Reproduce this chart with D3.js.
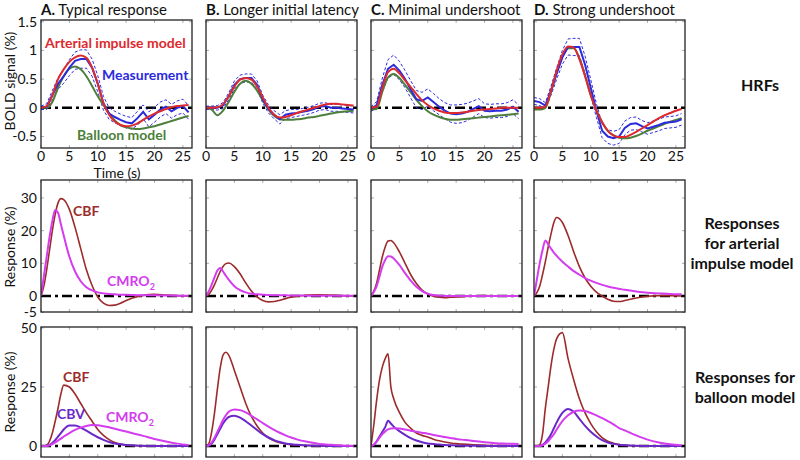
<!DOCTYPE html>
<html><head><meta charset="utf-8">
<script src="https://cdn.jsdelivr.net/npm/d3@7"></script>
<style>
body{margin:0;background:#fff;}
text{font-family:Lato,"Open Sans",sans-serif;}
</style></head>
<body><svg id="c" width="800" height="460"></svg>
<script>
// ---------- DATA ----------
const panelLetters = ["A.", "B.", "C.", "D."];
const panelTitles = ["Typical response", "Longer initial latency", "Minimal undershoot", "Strong undershoot"];
const rowLabels = [["HRFs"], ["Responses", "for arterial", "impulse model"], ["Responses for", "balloon model"]];
const xTicks = [0, 5, 10, 15, 20, 25];
const yTicksHRF = [-0.5, 0, 0.5, 1, 1.5];
const yTickLabelsHRF = ["-0.5", "0", "0.5", "1", "1.5"];
const yTicksArt = [-5, 0, 10, 20, 30];
const yTickLabelsArt = ["-5", "0", "10", "20", "30"];
const yTicksBal = [0, 25, 50];
const yTickLabelsBal = ["0", "25", "50"];

// HRF row (BOLD %), time in seconds
const hrfTime = [0,1,2,3,4,5,6,7,8,9,10,11,12,13,14,15,16,17,18,19,20,21,22,23,24,25,26];
const hrfArterialA = [0,0.03,0.22,0.5,0.67,0.8,0.88,0.91,0.87,0.7,0.42,0.08,-0.12,-0.24,-0.3,-0.32,-0.31,-0.27,-0.21,-0.15,-0.1,-0.06,-0.02,0.01,0.03,0.04,0.05];
const hrfBalloonA  = [0,0,0.1,0.35,0.55,0.68,0.72,0.67,0.55,0.38,0.2,0.05,-0.1,-0.22,-0.3,-0.34,-0.36,-0.37,-0.36,-0.34,-0.32,-0.29,-0.26,-0.23,-0.2,-0.17,-0.14];
const hrfMeasA     = [0,0.02,0.22,0.42,0.55,0.7,0.82,0.85,0.85,0.7,0.42,0.08,-0.1,-0.16,-0.21,-0.25,-0.27,-0.18,-0.07,-0.2,-0.12,-0.03,0.02,-0.06,0,0.03,-0.08];
const hrfErrA      = [0.03,0.05,0.08,0.1,0.12,0.14,0.15,0.16,0.16,0.15,0.14,0.12,0.1,0.1,0.1,0.1,0.1,0.12,0.12,0.13,0.13,0.13,0.12,0.12,0.12,0.12,0.12];
const hrfArterialB = [0,0,0.01,0.06,0.2,0.37,0.49,0.52,0.49,0.37,0.18,0,-0.12,-0.17,-0.16,-0.13,-0.09,-0.06,-0.03,0,0.03,0.06,0.07,0.07,0.06,0.05,0.04];
const hrfBalloonB  = [0,-0.03,-0.13,-0.05,0.1,0.28,0.42,0.47,0.42,0.3,0.13,-0.03,-0.14,-0.2,-0.21,-0.21,-0.2,-0.19,-0.17,-0.16,-0.14,-0.12,-0.1,-0.08,-0.07,-0.06,-0.05];
const hrfMeasB     = [0,0,0,0.04,0.2,0.4,0.5,0.52,0.52,0.4,0.15,-0.02,-0.12,-0.2,-0.12,-0.1,-0.09,-0.07,-0.05,-0.02,0.02,0.03,0,0,-0.01,-0.02,-0.03];
const hrfErrB      = [0.03,0.03,0.04,0.05,0.06,0.07,0.07,0.07,0.07,0.07,0.07,0.07,0.07,0.08,0.07,0.07,0.06,0.06,0.06,0.06,0.06,0.06,0.06,0.06,0.06,0.06,0.06];
const hrfArterialC = [0,0.02,0.35,0.62,0.68,0.6,0.48,0.36,0.24,0.13,0.05,-0.01,-0.05,-0.08,-0.09,-0.09,-0.08,-0.07,-0.05,-0.04,-0.03,-0.02,-0.01,0,0,0,0];
const hrfBalloonC  = [-0.03,-0.02,0.28,0.53,0.59,0.52,0.4,0.27,0.14,0.03,-0.06,-0.12,-0.16,-0.19,-0.21,-0.21,-0.2,-0.19,-0.18,-0.17,-0.16,-0.15,-0.14,-0.13,-0.12,-0.11,-0.1];
const hrfMeasC     = [-0.02,0.05,0.4,0.68,0.75,0.65,0.5,0.32,0.15,0.12,0.18,0.1,0.02,-0.05,-0.1,-0.11,-0.1,-0.07,-0.02,0.03,-0.05,-0.06,-0.05,-0.05,-0.03,0.02,-0.07];
const hrfErrC      = [0.04,0.06,0.12,0.16,0.17,0.16,0.15,0.15,0.15,0.15,0.15,0.15,0.14,0.14,0.15,0.16,0.16,0.15,0.14,0.13,0.12,0.12,0.12,0.12,0.12,0.12,0.12];
const hrfArterialD = [0,0,0.02,0.3,0.65,0.93,1.07,1.05,0.85,0.55,0.22,-0.05,-0.25,-0.4,-0.48,-0.51,-0.51,-0.47,-0.42,-0.36,-0.3,-0.24,-0.18,-0.13,-0.09,-0.05,-0.02];
const hrfBalloonD  = [-0.03,-0.03,0,0.28,0.62,0.9,1.04,1.04,0.86,0.56,0.22,-0.05,-0.25,-0.4,-0.48,-0.52,-0.53,-0.52,-0.49,-0.45,-0.4,-0.36,-0.32,-0.28,-0.24,-0.21,-0.18];
const hrfMeasD     = [0.12,0.1,0.04,0.3,0.6,0.88,1.06,1.06,1.06,0.75,0.35,-0.05,-0.4,-0.5,-0.53,-0.5,-0.35,-0.28,-0.27,-0.32,-0.36,-0.33,-0.3,-0.26,-0.25,-0.24,-0.2];
const hrfErrD      = [0.06,0.06,0.05,0.08,0.1,0.12,0.14,0.15,0.15,0.15,0.14,0.12,0.12,0.12,0.12,0.12,0.12,0.11,0.11,0.1,0.1,0.1,0.1,0.1,0.1,0.1,0.1];

// Response rows (%), time in seconds
const respTime = [0,0.5,1,1.5,2,2.5,3,3.5,4,5,6,7,8,9,10,11,12,13,14,15,16,18,20,22,24,26];
// arterial impulse model
const artCBF_A   = [0,3,8,14,20,25,28.5,29.8,29.5,26.5,21,14.5,8,3.2,-0.3,-2.2,-2.9,-2.8,-2.2,-1.4,-0.7,0.2,0.5,0.3,0.1,0];
const artCMRO2_A = [0,6,12,18,23,26.3,25.5,22,18.5,12,7.5,4.5,2.7,1.7,1.1,0.8,0.6,0.5,0.4,0.35,0.3,0.25,0.2,0.15,0.1,0.1];
const artCBF_B   = [0,0.5,1.8,3.5,5.5,7.5,9,9.9,10.1,9,6.8,4,1.5,-0.3,-1.4,-1.8,-1.7,-1.3,-0.8,-0.4,-0.1,0.3,0.4,0.3,0.1,0];
const artCMRO2_B = [0,1.5,3.5,5.7,7.8,8.6,7.5,6.2,5,3,1.8,1.1,0.7,0.5,0.4,0.3,0.25,0.2,0.2,0.15,0.15,0.1,0.1,0.1,0.1,0.1];
const artCBF_C   = [0,1.5,4,8,12,15,16.8,17,16.3,13.5,10,6.5,3.8,1.8,0.6,-0.1,-0.4,-0.5,-0.4,-0.3,-0.2,0,0.1,0.05,0,0];
const artCMRO2_C = [0,1.2,3,6,9,11,12.2,12.1,11.5,9.5,7,4.7,2.8,1.5,0.7,0.3,0.1,0.05,0,0,0,0,0,0,0,0];
const artCBF_D   = [0,1,3,6.5,10.5,15,19,22.5,24,22.5,18.5,13.5,9,5.5,3,1.2,0,-1,-1.6,-1.7,-1.4,-0.6,-0.1,0.1,0.1,0];
const artCMRO2_D = [0,5,10,14,17,15.8,14.5,13.3,12.3,10.5,9,7.6,6.5,5.5,4.7,4,3.4,2.9,2.5,2.2,1.9,1.4,1,0.8,0.6,0.5];
// balloon model
const balCBF_A   = [0,0,0.3,2,5.5,10.5,16,22,25.8,25,22,18,14,10.5,7,4.5,2.7,1.5,0.8,0.4,0.2,0.1,0,0,0,0];
const balCBV_A   = [0,0,0.1,0.5,1.3,2.5,4,5.5,7,8.7,8.7,7.8,6.5,5,3.7,2.6,1.7,1.1,0.7,0.4,0.3,0.1,0,0,0,0];
const balCMRO2_A = [0,0,0.05,0.3,0.8,1.5,2.3,3.1,4,5.5,6.8,7.8,8.5,8.9,8.8,8.4,7.9,7.3,6.7,6.1,5.5,4.3,3,1.9,1,0.4];
const balCBF_B   = [0,1,6,14,24,33,38.5,39.7,38.5,32,25,18,12.5,8.5,5.5,3.5,2.2,1.4,0.9,0.6,0.4,0.2,0.1,0,0,0];
const balCBV_B   = [0,0.2,1,2.8,5,7.3,9.5,11.2,12.3,12.8,12,10.5,8.7,6.8,5,3.6,2.5,1.7,1.1,0.7,0.5,0.2,0.1,0,0,0];
const balCMRO2_B = [0,0.3,1.5,3.5,6,8.5,11,13,14.5,15.5,15.2,14.2,12.8,11.3,9.7,8.2,6.8,5.6,4.5,3.6,2.8,1.7,0.9,0.5,0.2,0.1];
const balCBF_C   = [0,9,19.5,28,33.5,37,39,25,20,14.2,10,7.5,5.5,4.5,3.8,2.9,2.2,1.7,1.3,1,0.8,0.5,0.3,0.2,0.1,0];
const balCBV_C   = [0,0.5,2,4,6,8,10.7,9.5,8.2,6.3,4.7,3.3,2.3,1.6,1.1,0.8,0.6,0.4,0.3,0.2,0.15,0.1,0.05,0,0,0];
const balCMRO2_C = [0,0.5,1.8,3.5,5,6.2,7,7.4,7.5,7.4,7,6.5,6,5.6,5.2,4.7,4.2,3.8,3.4,3,2.7,2.1,1.6,1.2,1,0.8];
const balCBF_D   = [0,0,0.5,5,16,25,34,41,45.5,48,37,28,20,14,9.5,6,3.5,2,1.2,0.6,0.3,0.1,0,0,0,0];
const balCBV_D   = [0,0,0,0.5,1.5,3,5,7.5,10,14,15.7,14.5,11.5,8.5,6,4,2.5,1.5,0.9,0.5,0.3,0.1,0,0,0,0];
const balCMRO2_D = [0,0,0,0.3,1,2,3.5,5,7,10.5,13,14.5,15,14.8,14,13,11.8,10.5,9.2,7.6,6.6,4.5,2.7,1.5,0.7,0.3];

// ---------- LAYOUT ----------
const colX = [41, 206, 371, 534];
const panelW = 151;
const rows = [
  {top: 20, bottom: 148, domain: [-0.7, 1.53], ticks: yTicksHRF, labels: yTickLabelsHRF},
  {top: 180, bottom: 312, domain: [-4.9, 35.5], ticks: yTicksArt, labels: yTickLabelsArt},
  {top: 327, bottom: 457, domain: [-4.66, 50.4], ticks: yTicksBal, labels: yTickLabelsBal}
];
const C = {red: "#dd2a2e", blue: "#2b2bdd", green: "#4d7f3a", cbf: "#9c2b2b", cmro2: "#d43cef", cbv: "#6a28c8"};

const hrfSets = [
  {art: hrfArterialA, bal: hrfBalloonA, meas: hrfMeasA, err: hrfErrA},
  {art: hrfArterialB, bal: hrfBalloonB, meas: hrfMeasB, err: hrfErrB},
  {art: hrfArterialC, bal: hrfBalloonC, meas: hrfMeasC, err: hrfErrC},
  {art: hrfArterialD, bal: hrfBalloonD, meas: hrfMeasD, err: hrfErrD}
];
const artSets = [
  {cbf: artCBF_A, cmro2: artCMRO2_A}, {cbf: artCBF_B, cmro2: artCMRO2_B},
  {cbf: artCBF_C, cmro2: artCMRO2_C}, {cbf: artCBF_D, cmro2: artCMRO2_D}
];
const balSets = [
  {cbf: balCBF_A, cbv: balCBV_A, cmro2: balCMRO2_A}, {cbf: balCBF_B, cbv: balCBV_B, cmro2: balCMRO2_B},
  {cbf: balCBF_C, cbv: balCBV_C, cmro2: balCMRO2_C}, {cbf: balCBF_D, cbv: balCBV_D, cmro2: balCMRO2_D}
];

const svg = d3.select("#c");

function panel(ci, ri) {
  const r = rows[ri];
  const x = d3.scaleLinear().domain([0, 26.6]).range([colX[ci], colX[ci] + panelW]);
  const y = d3.scaleLinear().domain(r.domain).range([r.bottom, r.top]);
  const g = svg.append("g");
  const clipId = "clip" + ci + ri;
  g.append("clipPath").attr("id", clipId).append("rect")
    .attr("x", colX[ci]).attr("y", r.top).attr("width", panelW).attr("height", r.bottom - r.top);
  const tg = g.append("g").attr("stroke", "#999").attr("stroke-width", 0.8);
  xTicks.forEach(t => {
    tg.append("line").attr("x1", x(t)).attr("x2", x(t)).attr("y1", r.bottom).attr("y2", r.bottom - 3);
    tg.append("line").attr("x1", x(t)).attr("x2", x(t)).attr("y1", r.top).attr("y2", r.top + 3);
  });
  r.ticks.forEach(t => {
    tg.append("line").attr("x1", colX[ci]).attr("x2", colX[ci] + 3).attr("y1", y(t)).attr("y2", y(t));
    tg.append("line").attr("x1", colX[ci] + panelW).attr("x2", colX[ci] + panelW - 3).attr("y1", y(t)).attr("y2", y(t));
  });
  const plot = g.append("g").attr("clip-path", `url(#${clipId})`);
  plot.append("line").attr("x1", x(0)).attr("x2", x(26.6)).attr("y1", y(0)).attr("y2", y(0))
    .attr("stroke", "#000").attr("stroke-width", 2.6).attr("stroke-dasharray", "10,4,3,4");
  g.append("rect").attr("x", colX[ci]).attr("y", r.top).attr("width", panelW).attr("height", r.bottom - r.top)
    .attr("fill", "none").attr("stroke", "#222").attr("stroke-width", 1.3);
  if (ci === 0) {
    r.ticks.forEach((t, i) => {
      g.append("text").attr("x", colX[0] - 4).attr("y", y(t)).attr("dy", "0.35em")
        .attr("text-anchor", "end").attr("font-size", 14).attr("fill", "#111").text(r.labels[i]);
    });
  }
  if (ri === 0) {
    xTicks.forEach(t => {
      g.append("text").attr("x", x(t)).attr("y", r.bottom + 13).attr("text-anchor", "middle")
        .attr("font-size", 14).attr("fill", "#111").text(t);
    });
  }
  return {x, y, plot};
}

// Row 1: HRFs
hrfSets.forEach((s, ci) => {
  const {x, y, plot} = panel(ci, 0);
  const smooth = d3.line().x((d, i) => x(hrfTime[i])).y(d => y(d)).curve(d3.curveMonotoneX);
  const lin = d3.line().x((d, i) => x(hrfTime[i])).y(d => y(d));
  const upper = s.meas.map((v, i) => v + s.err[i]);
  const lower = s.meas.map((v, i) => v - s.err[i]);
  [upper, lower].forEach(b => plot.append("path").attr("d", lin(b)).attr("fill", "none")
    .attr("stroke", C.blue).attr("stroke-width", 1).attr("stroke-dasharray", "3,2"));
  plot.append("path").attr("d", smooth(s.bal)).attr("fill", "none").attr("stroke", C.green).attr("stroke-width", 2);
  plot.append("path").attr("d", lin(s.meas)).attr("fill", "none").attr("stroke", C.blue).attr("stroke-width", 2);
  plot.append("path").attr("d", smooth(s.art)).attr("fill", "none").attr("stroke", C.red).attr("stroke-width", 2);
});

// Row 2: arterial impulse model
artSets.forEach((s, ci) => {
  const {x, y, plot} = panel(ci, 1);
  const line = d3.line().x((d, i) => x(respTime[i])).y(d => y(d)).curve(d3.curveMonotoneX);
  plot.append("path").attr("d", line(s.cbf)).attr("fill", "none").attr("stroke", C.cbf).attr("stroke-width", 1.6);
  plot.append("path").attr("d", line(s.cmro2)).attr("fill", "none").attr("stroke", C.cmro2).attr("stroke-width", 2);
});

// Row 3: balloon model
balSets.forEach((s, ci) => {
  const {x, y, plot} = panel(ci, 2);
  const line = d3.line().x((d, i) => x(respTime[i])).y(d => y(d)).curve(d3.curveMonotoneX);
  plot.append("path").attr("d", line(s.cbf)).attr("fill", "none").attr("stroke", C.cbf).attr("stroke-width", 1.6);
  plot.append("path").attr("d", line(s.cbv)).attr("fill", "none").attr("stroke", C.cbv).attr("stroke-width", 2);
  plot.append("path").attr("d", line(s.cmro2)).attr("fill", "none").attr("stroke", C.cmro2).attr("stroke-width", 2);
});

// Titles
panelLetters.forEach((L, ci) => {
  const t = svg.append("text").attr("x", colX[ci]).attr("y", 15).attr("font-size", 15).attr("fill", "#111");
  t.append("tspan").attr("font-weight", "bold").text(L);
  t.append("tspan").text(" " + panelTitles[ci]);
});

// Axis labels
svg.append("text").attr("x", 117).attr("y", 178).attr("text-anchor", "middle").attr("font-size", 14).attr("fill", "#111").text("Time (s)");
[["BOLD signal (%)", 81], ["Response (%)", 247], ["Response (%)", 392]].forEach(([s, cy]) => {
  svg.append("text").attr("transform", `translate(15,${cy}) rotate(-90)`).attr("text-anchor", "middle")
    .attr("font-size", 14).attr("fill", "#111").text(s);
});

// Row labels
const rowLabelY = [85, 223, 377];
const rowLabelX = [760, 742, 745];
rowLabels.forEach((lines, ri) => {
  lines.forEach((s, i) => {
    svg.append("text").attr("x", rowLabelX[ri]).attr("y", rowLabelY[ri] + i * 20).attr("dy", "0.35em")
      .attr("text-anchor", "middle").attr("font-size", 16).attr("font-weight", "bold").attr("fill", "#111").text(s);
  });
});

// In-panel labels
function lab(x, y, txt, color, sub) {
  const t = svg.append("text").attr("x", x).attr("y", y).attr("font-size", 14).attr("font-weight", "bold").attr("fill", color);
  t.append("tspan").text(txt);
  if (sub) t.append("tspan").attr("font-size", 9).attr("dy", 4).text(sub);
}
lab(45, 48, "Arterial impulse model", C.red);
lab(102, 80, "Measurement", C.blue);
lab(77, 140, "Balloon model", C.green);
lab(73, 216, "CBF", C.cbf);
lab(107, 286, "CMRO", C.cmro2, "2");
lab(63, 382, "CBF", C.cbf);
lab(57, 419, "CBV", C.cbv);
lab(106, 422, "CMRO", C.cmro2, "2");
</script></body></html>
